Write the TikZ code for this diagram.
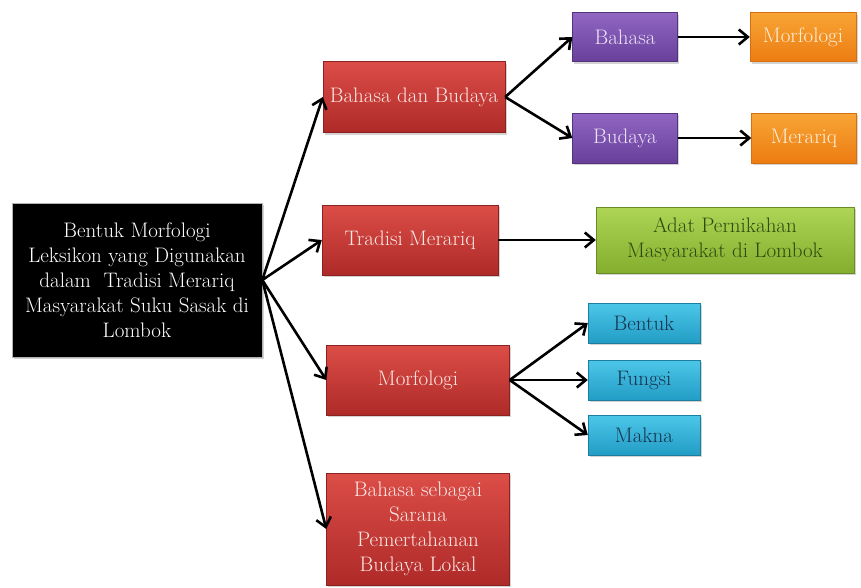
\documentclass[tikz,border=0pt]{standalone}
\usetikzlibrary{arrows.meta,shadows}
\definecolor{redT}{HTML}{DC4D47}
\definecolor{redB}{HTML}{AE2A28}
\definecolor{redTxt}{HTML}{FCE8E5}
\definecolor{purT}{HTML}{9066C2}
\definecolor{purB}{HTML}{68409A}
\definecolor{purTxt}{HTML}{EDE3F7}
\definecolor{oraT}{HTML}{F8A535}
\definecolor{oraB}{HTML}{EC7C12}
\definecolor{oraTxt}{HTML}{FFF0D8}
\definecolor{grnT}{HTML}{AED555}
\definecolor{grnB}{HTML}{84AE2E}
\definecolor{grnTxt}{HTML}{2E4A0E}
\definecolor{cyaT}{HTML}{4CC6E8}
\definecolor{cyaB}{HTML}{229DC5}
\definecolor{cyaTxt}{HTML}{16324E}
\tikzset{
  box/.style={rectangle, inner sep=2pt, align=center, font=\fontsize{21}{25}\selectfont,
    drop shadow={shadow xshift=1.5pt, shadow yshift=-2pt, opacity=0.35}},
  blackbox/.style={box, fill=black, draw=gray!60, line width=0.6pt, text=white},
  redbox/.style={box, top color=redT, bottom color=redB, draw=redB!80!black, line width=0.4pt, text=redTxt},
  purbox/.style={box, top color=purT, bottom color=purB, draw=purB!80!black, line width=0.4pt, text=purTxt},
  orabox/.style={box, top color=oraT, bottom color=oraB, draw=oraB!90!black, line width=0.4pt, text=oraTxt},
  grnbox/.style={box, top color=grnT, bottom color=grnB, draw=grnB!80!black, line width=0.4pt, text=grnTxt},
  cyabox/.style={box, top color=cyaT, bottom color=cyaB, draw=cyaB!80!black, line width=0.4pt, text=cyaTxt},
  conn/.style={draw=black, line width=2.6pt, -{Straight Barb[length=9pt,width=15pt,line width=2.6pt]}},
}
\begin{document}
\begin{tikzpicture}[x=1pt,y=-1pt]
\useasboundingbox (0,0) rectangle (861,587);
\node[blackbox, minimum width=250pt, minimum height=154pt] (root) at (137,280)
  {Bentuk Morfologi\\Leksikon yang Digunakan\\dalam \ Tradisi Merariq\\Masyarakat Suku Sasak di\\Lombok};
\node[redbox, minimum width=182pt, minimum height=71pt] (bdb) at (414,97) {Bahasa dan Budaya};
\node[redbox, minimum width=176pt, minimum height=70pt] (tm) at (410,240) {Tradisi Merariq};
\node[redbox, minimum width=183pt, minimum height=70pt] (mf) at (418,380) {Morfologi};
\node[redbox, minimum width=183pt, minimum height=112pt] (bs) at (418,529) {Bahasa sebagai\\Sarana\\Pemertahanan\\Budaya Lokal};
\node[purbox, minimum width=105pt, minimum height=49pt] (bh) at (625,37) {Bahasa};
\node[purbox, minimum width=105pt, minimum height=50pt] (bd) at (625,138) {Budaya};
\node[orabox, minimum width=106pt, minimum height=49pt] (om) at (803,37) {Morfologi};
\node[orabox, minimum width=105pt, minimum height=50pt] (omr) at (804,138) {Merariq};
\node[grnbox, minimum width=258pt, minimum height=66pt] (adat) at (725,240) {Adat Pernikahan\\Masyarakat di Lombok};
\node[cyabox, minimum width=112pt, minimum height=40pt] (ben) at (644,323) {Bentuk};
\node[cyabox, minimum width=112pt, minimum height=40pt] (fun) at (644,380) {Fungsi};
\node[cyabox, minimum width=112pt, minimum height=40pt] (mak) at (644,435) {Makna};
\draw[conn] (root.east) -- (bdb.west);
\draw[conn] (root.east) -- (tm.west);
\draw[conn] (root.east) -- (mf.west);
\draw[conn] (root.east) -- (bs.west);
\draw[conn] (bdb.east) -- (bh.west);
\draw[conn] (bdb.east) -- (bd.west);
\draw[conn] (bh.east) -- (om.west);
\draw[conn] (bd.east) -- (omr.west);
\draw[conn] (tm.east) -- (adat.west);
\draw[conn] (mf.east) -- (ben.west);
\draw[conn] (mf.east) -- (fun.west);
\draw[conn] (mf.east) -- (mak.west);
\end{tikzpicture}
\end{document}
